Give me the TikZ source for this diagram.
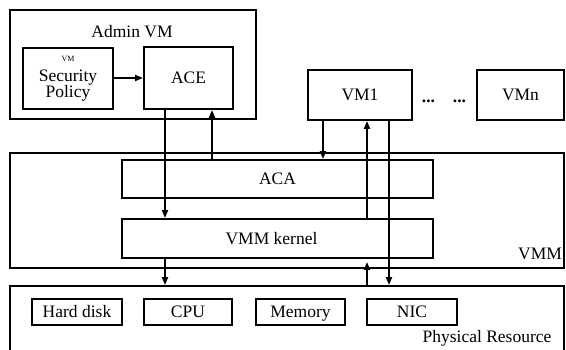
\documentclass[tikz,border=0pt]{standalone}
\usepackage{fontspec}
\setmainfont{Liberation Serif}
\usetikzlibrary{arrows.meta}
\begin{document}
\begin{tikzpicture}[x=1pt,y=-1pt,
  box/.style={draw,line width=1.9pt,inner sep=0pt,font=\fontsize{17.5}{19}\selectfont},
  sbox/.style={box,text height=14pt,text depth=2.4pt},
  lbl/.style={inner sep=0pt,font=\fontsize{17.5}{19}\selectfont},
  arr/.style={line width=1.9pt,-{Triangle[length=8pt,width=6pt]}}]
\useasboundingbox[fill=white] (0,0) rectangle (566,350);
% containers
\node[box,minimum width=246pt,minimum height=109pt] (admin) at (133,64.5) {};
\node[lbl] (admint) at (132,32) {Admin VM};
\node[box,minimum width=554pt,minimum height=115pt] (vmm) at (287,210.5) {};
\node[lbl] (vmmt) at (540,254) {VMM};
\node[box,minimum width=554pt,minimum height=78pt] (pr) at (287,325) {};
\node[lbl] (prt) at (487,338) {Physical Resource};
% admin VM contents
\node[box,minimum width=90pt,minimum height=61pt,align=center] (sp) at (68,78.5)
  {\raisebox{2pt}{\fontsize{8}{9}\selectfont VM}\\[-1pt]Security\\[-3pt]Policy};
\node[sbox,minimum width=89pt,minimum height=62pt] (ace) at (188.5,78) {ACE};
% VMs
\node[sbox,minimum width=104pt,minimum height=50pt] (vm1) at (360,95) {VM1};
\node[lbl,font=\fontsize{17.5}{19}\selectfont\bfseries] (d1) at (428.5,101) {...};
\node[lbl,font=\fontsize{17.5}{19}\selectfont\bfseries] (d2) at (459.5,101) {...};
\node[sbox,minimum width=87pt,minimum height=50pt] (vmn) at (520.5,95) {VMn};
% VMM contents
\node[sbox,minimum width=311pt,minimum height=38pt] (aca) at (277.5,179) {ACA};
\node[sbox,minimum width=311pt,minimum height=39pt] (kernel) at (277.5,238.5) {\hspace*{-12pt}VMM kernel};
% physical resources
\node[sbox,minimum width=90pt,minimum height=26pt] (hd) at (77,312) {Hard disk};
\node[sbox,minimum width=88pt,minimum height=26pt] (cpu) at (188,312) {CPU};
\node[sbox,minimum width=89pt,minimum height=26pt] (mem) at (300.5,312) {Memory};
\node[sbox,minimum width=90pt,minimum height=26pt] (nic) at (412,312) {NIC};
% x positions of connectors
\coordinate (xa) at (165,0);
\coordinate (xb) at (212,0);
\coordinate (xc) at (323,0);
\coordinate (xd) at (367,0);
\coordinate (xe) at (389,0);
% connectors
\draw[arr] (sp.east |- ace.west) -- (ace.west);
\draw[arr] (xa |- ace.south) -- (xa |- kernel.north);
\draw[arr] (xb |- aca.north) -- (xb |- ace.south);
\draw[arr] (xc |- vm1.south) -- (xc |- aca.north);
\draw[arr] (xd |- kernel.north) -- (xd |- vm1.south);
\draw[arr] (xd |- pr.north) -- ([yshift=-3pt]xd |- kernel.south);
\draw[arr] (xe |- vm1.south) -- (xe |- pr.north);
\draw[arr] (xa |- kernel.south) -- (xa |- pr.north);
\end{tikzpicture}
\end{document}
